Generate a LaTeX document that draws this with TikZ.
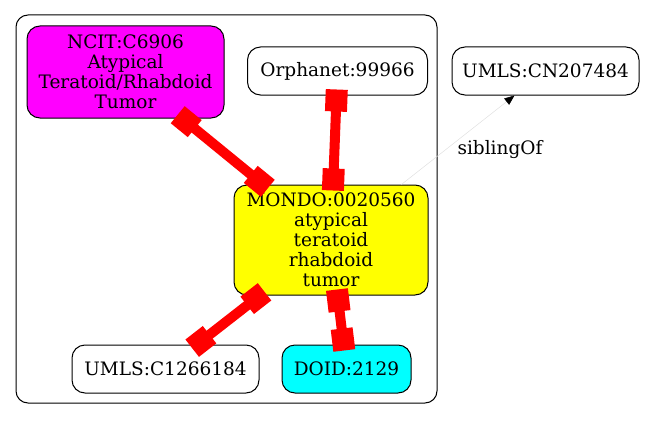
\documentclass[tikz,border=0pt]{standalone}
\usepackage{fontspec}
\setmainfont{DejaVu Serif}
\usetikzlibrary{arrows.meta}
\definecolor{gvmag}{RGB}{255,0,255}
\definecolor{gvyel}{RGB}{255,255,0}
\definecolor{gvcyan}{RGB}{0,255,255}
\definecolor{gvred}{RGB}{255,0,0}
\begin{document}
\begin{tikzpicture}[x=1pt,y=-1pt,
  nd/.style={draw=black, line width=1pt, rounded corners=13pt, align=center,
    font=\fontsize{18.5}{20}\selectfont, inner sep=0pt},
  rel/.style={draw=gvred, line width=10pt,
    {Square[length=22pt,width=22pt,color=gvred]}-{Square[length=22pt,width=22pt,color=gvred]},
    shorten <=-6pt, shorten >=-6pt},
  sib/.style={draw=black!12, line width=0.5pt, -{Triangle[length=10pt,width=8pt,color=black]}}
]
\useasboundingbox (0,0) rectangle (647,420);
\draw[line width=1pt, rounded corners=12pt] (16,15) rectangle (437,403);
\node[nd, fill=gvmag, minimum width=197pt, minimum height=92pt] (ncit) at (125.5,72)
  {NCIT:C6906\\Atypical\\Teratoid/Rhabdoid\\Tumor};
\node[nd, minimum width=180pt, minimum height=48pt] (orph) at (337.5,71) {Orphanet:99966};
\node[nd, minimum width=187pt, minimum height=48pt] (cn) at (545.5,71) {UMLS:CN207484};
\node[nd, fill=gvyel, minimum width=194pt, minimum height=110pt] (mondo) at (331,240)
  {MONDO:0020560\\atypical\\teratoid\\rhabdoid\\tumor};
\node[nd, minimum width=187pt, minimum height=48pt] (c12) at (165.5,369) {UMLS:C1266184};
\node[nd, fill=gvcyan, minimum width=129pt, minimum height=48pt] (doid) at (346.5,369) {DOID:2129};
\draw[rel] (ncit) -- (mondo);
\draw[rel] (orph) -- (mondo);
\draw[rel] (mondo) -- (c12);
\draw[rel] (mondo) -- (doid);
\draw[sib] (mondo) -- (cn);
\node[font=\fontsize{18.5}{20}\selectfont, inner sep=0pt] (lbl) at (500,150) {siblingOf};
\end{tikzpicture}
\end{document}
